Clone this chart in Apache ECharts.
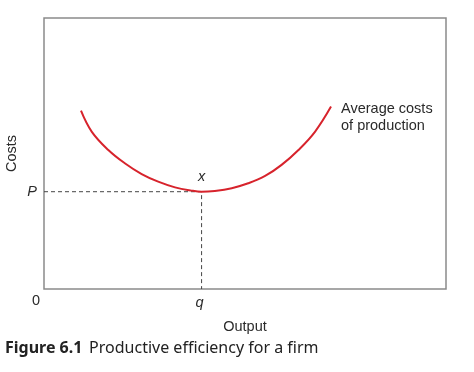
<!DOCTYPE html>
<html>
<head>
<meta charset="utf-8">
<script src="https://cdn.jsdelivr.net/npm/echarts@6/dist/echarts.min.js"></script>
<style>html,body{margin:0;padding:0;background:#fff;}#c{width:474px;height:372px;}</style>
</head>
<body>
<div id="c"></div>
<script>
// Average cost curve (Output, Costs)
const curveX = [9.2, 11.9, 16.0, 20.1, 24.3, 28.4, 32.6, 36.7, 39.2, 42.5, 46.7, 50.8, 55.0, 59.1, 63.3, 67.4, 71.4];
const curveY = [65.8, 58.0, 51.3, 46.4, 42.4, 39.6, 37.5, 36.3, 35.9, 36.2, 37.2, 39.0, 41.7, 45.8, 51.3, 58.0, 67.3];
const qValue = 39.2;
const pValue = 35.9;
const curveLabel = 'Average costs\nof production';
const xName = 'Output';
const yName = 'Costs';
const captionBold = 'Figure 6.1';
const captionText = 'Productive efficiency for a firm';

const chart = echarts.init(document.getElementById('c'));
const curveData = curveX.map((x, i) => [x, curveY[i]]);
const last = curveData[curveData.length - 1];
const txt = { fontFamily: 'Liberation Sans', fontSize: 14.5, color: '#2a2a2a' };

chart.setOption({
  animation: false,
  grid: { left: 44, right: 28, top: 18, bottom: 83, containLabel: false, outerBoundsMode: 'none',
    show: true, borderColor: '#8a8a8a', borderWidth: 1.5, backgroundColor: 'transparent' },
  xAxis: {
    type: 'value', min: 0, max: 100,
    name: xName, nameLocation: 'middle', nameGap: 30,
    nameTextStyle: txt,
    axisLine: { show: false }, axisTick: { show: false }, splitLine: { show: false }, axisLabel: { show: false }
  },
  yAxis: {
    type: 'value', min: 0, max: 100,
    name: yName, nameLocation: 'middle', nameGap: 25,
    nameTextStyle: txt,
    axisLine: { show: false }, axisTick: { show: false }, splitLine: { show: false }, axisLabel: { show: false }
  },
  series: [
    {
      type: 'line', data: [[0, pValue], [qValue, pValue], [qValue, 0]],
      symbol: 'none', lineStyle: { color: '#444', width: 1, type: [4, 3] }, z: 1
    },
    {
      type: 'line', smooth: 0.4, symbol: 'none',
      data: curveData,
      lineStyle: { color: '#d7232c', width: 2 }, z: 3
    },
    {
      type: 'scatter', symbolSize: 0, silent: true, itemStyle: { opacity: 1 },
      label: Object.assign({ show: true }, txt),
      data: [
        { value: [0, 0], label: { formatter: '0', position: 'bottom', offset: [-8, -1] } },
        { value: [0, pValue], label: { formatter: 'P', position: 'left', offset: [-2, 0], fontStyle: 'italic' } },
        { value: [qValue, 0], label: { formatter: 'q', position: 'bottom', offset: [-2, 1], fontStyle: 'italic' } },
        { value: [qValue, pValue], label: { formatter: 'x', position: 'top', offset: [0, -2], fontStyle: 'italic' } },
        { value: last, label: { formatter: curveLabel, position: 'right', distance: 10, offset: [0, 11],
          lineHeight: 17, align: 'left' } }
      ]
    }
  ],
  graphic: [{
    type: 'text', left: 5, top: 340,
    style: {
      text: '{b|' + captionBold + '}  {n|' + captionText + '}',
      rich: {
        b: { fontFamily: 'Noto Sans', fontWeight: 'bold', fontSize: 16, fill: '#222' },
        n: { fontFamily: 'Noto Sans', fontSize: 16, fill: '#222' }
      }
    }
  }]
});
</script>
</body>
</html>
